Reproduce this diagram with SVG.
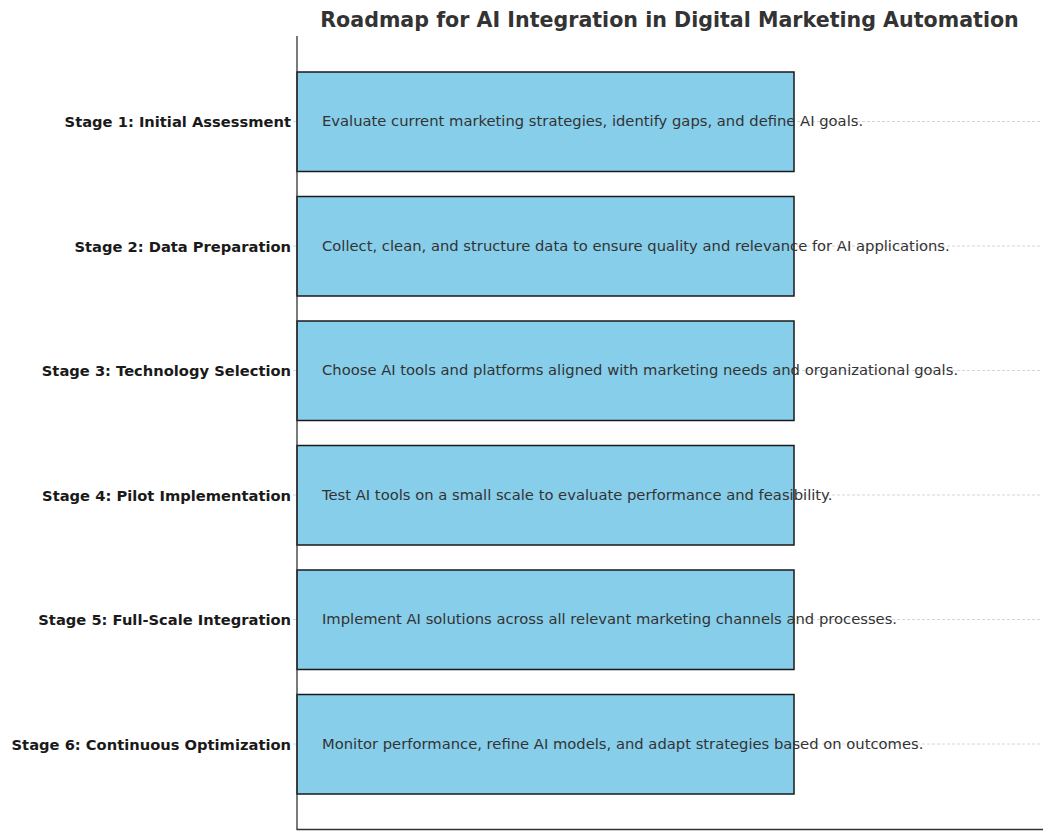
<svg xmlns="http://www.w3.org/2000/svg" width="1052" height="840" viewBox="0 0 1052 840">
<style>
.title{font-family:"DejaVu Sans",sans-serif;font-weight:bold;font-size:20.6px;fill:#333333;text-anchor:middle}
.lab{font-family:"DejaVu Sans",sans-serif;font-weight:bold;font-size:14.7px;fill:#1a1a1a;text-anchor:end}
.desc{font-family:"DejaVu Sans",sans-serif;font-size:14.75px;fill:#333333}
.bar{fill:#87CEEB;stroke:#1a1a1a;stroke-width:1.5}
.grid{stroke:#cccccc;stroke-width:0.8;stroke-dasharray:3 2;fill:none}
.tick{stroke:#cccccc;stroke-width:0.8}
.spine{stroke:#333333;stroke-width:1.3;fill:none}
</style>
<rect width="1052" height="840" fill="#ffffff"/>
<text class="title" x="669.5" y="27">Roadmap for AI Integration in Digital Marketing Automation</text>
<g id="connectors">
<line class="grid" x1="297" y1="121.5" x2="1042" y2="121.5"/>
<line class="grid" x1="297" y1="246" x2="1042" y2="246"/>
<line class="grid" x1="297" y1="370.5" x2="1042" y2="370.5"/>
<line class="grid" x1="297" y1="495" x2="1042" y2="495"/>
<line class="grid" x1="297" y1="619.5" x2="1042" y2="619.5"/>
<line class="grid" x1="297" y1="744" x2="1042" y2="744"/>
<line class="tick" x1="293" y1="121.5" x2="297" y2="121.5"/>
<line class="tick" x1="293" y1="246" x2="297" y2="246"/>
<line class="tick" x1="293" y1="370.5" x2="297" y2="370.5"/>
<line class="tick" x1="293" y1="495" x2="297" y2="495"/>
<line class="tick" x1="293" y1="619.5" x2="297" y2="619.5"/>
<line class="tick" x1="293" y1="744" x2="297" y2="744"/>
</g>
<g id="stage1">
<rect class="bar" x="297" y="72" width="497" height="99.5"/>
<text class="lab" x="291" y="127">Stage 1: Initial Assessment</text>
<text class="desc" x="322" y="126">Evaluate current marketing strategies, identify gaps, and define AI goals.</text>
</g>
<g id="stage2">
<rect class="bar" x="297" y="196.5" width="497" height="99.5"/>
<text class="lab" x="291" y="251.5">Stage 2: Data Preparation</text>
<text class="desc" x="322" y="250.5">Collect, clean, and structure data to ensure quality and relevance for AI applications.</text>
</g>
<g id="stage3">
<rect class="bar" x="297" y="321" width="497" height="99.5"/>
<text class="lab" x="291" y="376">Stage 3: Technology Selection</text>
<text class="desc" x="322" y="375">Choose AI tools and platforms aligned with marketing needs and organizational goals.</text>
</g>
<g id="stage4">
<rect class="bar" x="297" y="445.5" width="497" height="99.5"/>
<text class="lab" x="291" y="500.5">Stage 4: Pilot Implementation</text>
<text class="desc" x="322" y="499.5">Test AI tools on a small scale to evaluate performance and feasibility.</text>
</g>
<g id="stage5">
<rect class="bar" x="297" y="570" width="497" height="99.5"/>
<text class="lab" x="291" y="625">Stage 5: Full-Scale Integration</text>
<text class="desc" x="322" y="624">Implement AI solutions across all relevant marketing channels and processes.</text>
</g>
<g id="stage6">
<rect class="bar" x="297" y="694.5" width="497" height="99.5"/>
<text class="lab" x="291" y="749.5">Stage 6: Continuous Optimization</text>
<text class="desc" x="322" y="748.5">Monitor performance, refine AI models, and adapt strategies based on outcomes.</text>
</g>
<g id="axes">
<line class="spine" x1="297" y1="36" x2="297" y2="829.5"/>
<line class="spine" x1="296.5" y1="829.5" x2="1043" y2="829.5"/>
</g>
</svg>
